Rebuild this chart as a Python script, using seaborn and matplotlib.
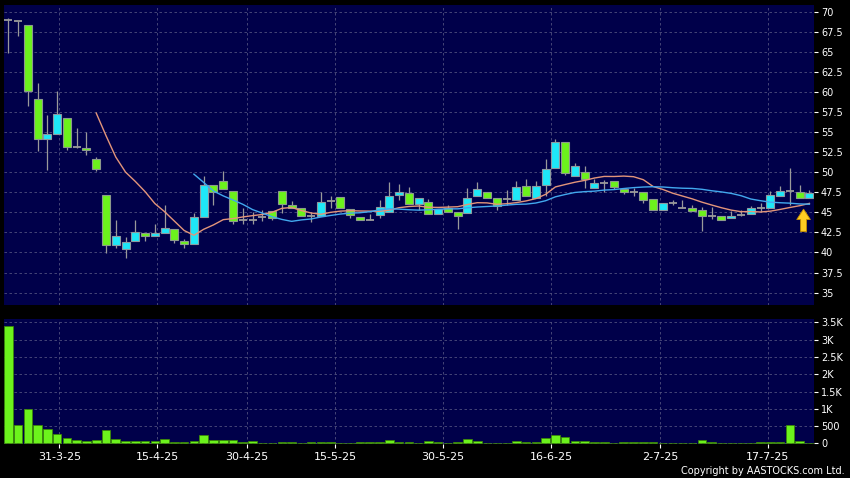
import numpy as np
import pandas as pd
import matplotlib
matplotlib.use("Agg")
import matplotlib.pyplot as plt
from matplotlib.patches import FancyArrow
import seaborn as sns

# ---------------- data ----------------
opens = [69.0, 68.8, 68.4, 59.1, 54.2, 54.8, 56.8, 53.2, 53.0, 51.6,
         47.2, 40.9, 40.45, 41.4, 42.45, 42.1, 42.45, 42.9, 41.4, 41.1,
         44.4, 48.35, 48.9, 47.7, 44.1, 44.1, 44.45, 45.2, 47.7, 45.9,
         45.5, 44.5, 44.5, 46.4, 46.9, 45.4, 44.45, 44.1, 44.65, 45.05,
         47.15, 47.45, 46.0, 46.3, 44.75, 45.5, 45.05, 44.95, 47.0, 47.55,
         46.8, 46.7, 46.5, 48.3, 46.85, 48.4, 50.5, 53.8, 49.5, 50.0,
         48.0, 48.7, 48.9, 47.85, 47.55, 47.5, 46.7, 45.35, 46.15, 45.55,
         45.6, 45.25, 44.55, 44.55, 44.25, 44.65, 44.75, 45.55, 45.5, 47.1,
         47.6, 47.55, 46.85]
highs = [69.2, 68.9, 68.4, 61.1, 57.1, 60.1, 56.8, 55.5, 55.0, 51.9,
         47.2, 44.0, 41.95, 44.0, 42.45, 43.5, 45.9, 42.9, 41.7, 44.9,
         49.5, 48.35, 50.1, 47.7, 45.5, 45.1, 45.3, 45.2, 47.7, 46.4,
         45.5, 45.1, 47.5, 47.0, 46.9, 45.4, 44.45, 44.8, 46.6, 48.8,
         48.5, 48.2, 46.85, 46.7, 45.4, 45.9, 45.05, 48.0, 48.8, 47.55,
         46.8, 47.8, 48.9, 49.15, 48.9, 51.6, 54.1, 53.8, 51.1, 50.8,
         49.2, 49.0, 48.9, 47.85, 48.0, 47.5, 46.7, 46.15, 46.6, 46.5,
         45.9, 45.65, 45.65, 44.55, 45.2, 45.25, 45.85, 46.15, 47.6, 48.3,
         50.5, 48.4, 47.8]
lows = [64.9, 67.0, 58.2, 52.7, 50.3, 54.8, 52.8, 53.0, 52.2, 50.2,
        39.9, 40.6, 39.25, 41.4, 41.4, 42.1, 42.45, 41.2, 40.6, 41.1,
        44.4, 45.9, 47.85, 43.5, 43.5, 43.5, 43.9, 44.1, 44.9, 45.5,
        44.5, 43.8, 44.5, 45.5, 45.6, 44.35, 44.05, 44.1, 44.35, 45.05,
        46.6, 46.0, 45.3, 44.85, 44.75, 45.05, 42.9, 44.95, 47.0, 46.8,
        45.25, 45.9, 46.5, 47.0, 46.85, 47.1, 50.5, 49.6, 49.5, 48.0,
        48.0, 47.55, 47.95, 47.3, 47.0, 46.2, 45.35, 45.35, 45.9, 45.55,
        45.2, 42.7, 44.2, 44.1, 44.25, 44.5, 44.75, 45.0, 45.5, 47.1,
        45.9, 46.8, 46.85]
closes = [69.0, 68.8, 60.1, 54.2, 54.8, 57.3, 53.2, 53.2, 52.8, 50.35,
          40.9, 42.1, 41.3, 42.6, 42.1, 42.45, 43.0, 41.5, 41.1, 44.4,
          48.35, 47.55, 47.85, 43.95, 44.1, 44.1, 44.45, 44.25, 46.0, 45.5,
          44.5, 44.5, 46.25, 46.4, 45.6, 44.65, 44.05, 44.1, 45.7, 47.05,
          47.5, 46.0, 46.85, 44.85, 45.4, 45.05, 44.55, 46.85, 47.95, 46.8,
          45.75, 46.7, 48.2, 47.0, 48.3, 50.35, 53.8, 49.85, 50.8, 49.1,
          48.7, 48.7, 48.1, 47.5, 47.55, 46.6, 45.35, 46.15, 46.15, 45.55,
          45.2, 44.55, 44.55, 44.1, 44.6, 44.65, 45.55, 45.55, 47.2, 47.7,
          47.6, 46.8, 47.4]
volumes = [3410, 530, 1000, 530, 424, 280, 145, 87, 58, 106,
           395, 116, 67, 67, 67, 67, 116, 29, 29, 67,
           240, 87, 87, 87, 48, 58, 10, 10, 29, 29,
           10, 29, 39, 29, 19, 10, 29, 29, 29, 87,
           48, 39, 19, 58, 29, 19, 29, 135, 67, 19,
           19, 19, 67, 29, 29, 164, 250, 183, 58, 67,
           29, 29, 10, 39, 29, 48, 48, 10, 10, 19,
           10, 96, 29, 10, 19, 10, 10, 29, 29, 29,
           530, 67, 5]
date_labels = ["31-3-25", "15-4-25", "30-4-25", "15-5-25",
               "30-5-25", "16-6-25", "2-7-25", "17-7-25"]
price_ticks = [35, 37.5, 40, 42.5, 45, 47.5, 50, 52.5, 55, 57.5, 60, 62.5, 65, 67.5, 70]
price_tick_labels = ["35", "37.5", "40", "42.5", "45", "47.5", "50", "52.5",
                     "55", "57.5", "60", "62.5", "65", "67.5", "70"]
vol_ticks = [0, 500, 1000, 1500, 2000, 2500, 3000, 3500]
vol_tick_labels = ["0", "500", "1K", "1.5K", "2K", "2.5K", "3K", "3.5K"]

# ---------------- layout / style ----------------
date_tick_pos = [5.22, 15.25, 24.40, 33.47, 44.52, 55.56, 66.70, 77.76]
BG = "#00004a"
GREEN = "#6cf21c"
CYAN = "#1ee8f8"
GRID = "#50507e"
WICK = "#9a9a9a"

plt.rcParams["font.family"] = ["DejaVu Sans"]

df = pd.DataFrame({"idx": np.arange(len(closes)), "open": opens, "high": highs,
                   "low": lows, "close": closes, "volume": volumes})
df["ma10"] = df["close"].rolling(10).mean()
df["ma20"] = df["close"].rolling(20).mean()

fig = plt.figure(figsize=(8.5, 4.78), dpi=100, facecolor="black")
ax = fig.add_axes([4 / 850, 1 - 305 / 478, 810 / 850, 300 / 478])
axv = fig.add_axes([4 / 850, 1 - 444 / 478, 810 / 850, 125 / 478])

xlim = (-0.44, 82.47)

for a in (ax, axv):
    a.set_facecolor(BG)
    for s in a.spines.values():
        s.set_visible(False)

# ---- price panel ----
up = df[df["close"] > df["open"]]
down = df[df["close"] < df["open"]]
doji = df[df["close"] == df["open"]]

ax.vlines(df["idx"], df["low"], df["high"], color=WICK, lw=0.9, zorder=3)
ax.bar(up["idx"], up["close"] - up["open"], bottom=up["open"], width=0.82,
       color=CYAN, edgecolor="#8c9aa0", linewidth=0.8, zorder=4)
ax.bar(down["idx"], down["open"] - down["close"], bottom=down["close"], width=0.82,
       color=GREEN, edgecolor="#8c9a8c", linewidth=0.8, zorder=4)
ax.hlines(doji["open"], doji["idx"] - 0.41, doji["idx"] + 0.41, color=WICK, lw=1.3, zorder=4)

sns.lineplot(data=df, x="idx", y="ma10", ax=ax, color="#e3957a", linewidth=1.0, zorder=5)
sns.lineplot(data=df, x="idx", y="ma20", ax=ax, color="#42a8ee", linewidth=1.0, zorder=5)

ax.add_patch(FancyArrow(81.4, 42.6, 0, 2.8, width=0.6, head_width=1.4, head_length=1.3,
                        length_includes_head=True, facecolor="#ffcc22",
                        edgecolor="#c89000", linewidth=0.6, zorder=6))

ax.set_xlim(*xlim)
ax.set_ylim(33.45, 70.85)
ax.set_yticks(price_ticks)
ax.set_yticklabels(price_tick_labels)
ax.yaxis.tick_right()
ax.set_xticks(date_tick_pos)
ax.tick_params(axis="x", bottom=False, labelbottom=False)
ax.tick_params(axis="y", colors="white", labelsize=7, length=3, width=0.8, pad=2)
ax.grid(True, color=GRID, linestyle=(0, (3, 3)), linewidth=0.6, zorder=0)
ax.set_axisbelow(True)
ax.set_xlabel("")
ax.set_ylabel("")

# ---- volume panel ----
sns.barplot(data=df, x="idx", y="volume", native_scale=True, ax=axv, color=GREEN,
            saturation=1, width=0.88, errorbar=None, edgecolor="#3d8a00",
            linewidth=0.5, zorder=3)
axv.set_xlim(*xlim)
axv.set_ylim(-20, 3600)
axv.set_yticks(vol_ticks)
axv.set_yticklabels(vol_tick_labels)
axv.yaxis.tick_right()
axv.set_xticks(date_tick_pos)
axv.set_xticklabels(date_labels)
axv.tick_params(axis="y", colors="white", labelsize=7, length=3, width=0.8, pad=2)
axv.tick_params(axis="x", colors="white", labelsize=8, length=3, width=0.8, pad=3)
axv.grid(True, color=GRID, linestyle=(0, (3, 3)), linewidth=0.6, zorder=0)
axv.set_axisbelow(True)
axv.set_xlabel("")
axv.set_ylabel("")

fig.text(845 / 850, 1 - 471 / 478, "Copyright by AASTOCKS.com Ltd.", color="white",
         fontsize=7, ha="right", va="center")

fig.savefig("out.png", dpi=100, facecolor="black")
